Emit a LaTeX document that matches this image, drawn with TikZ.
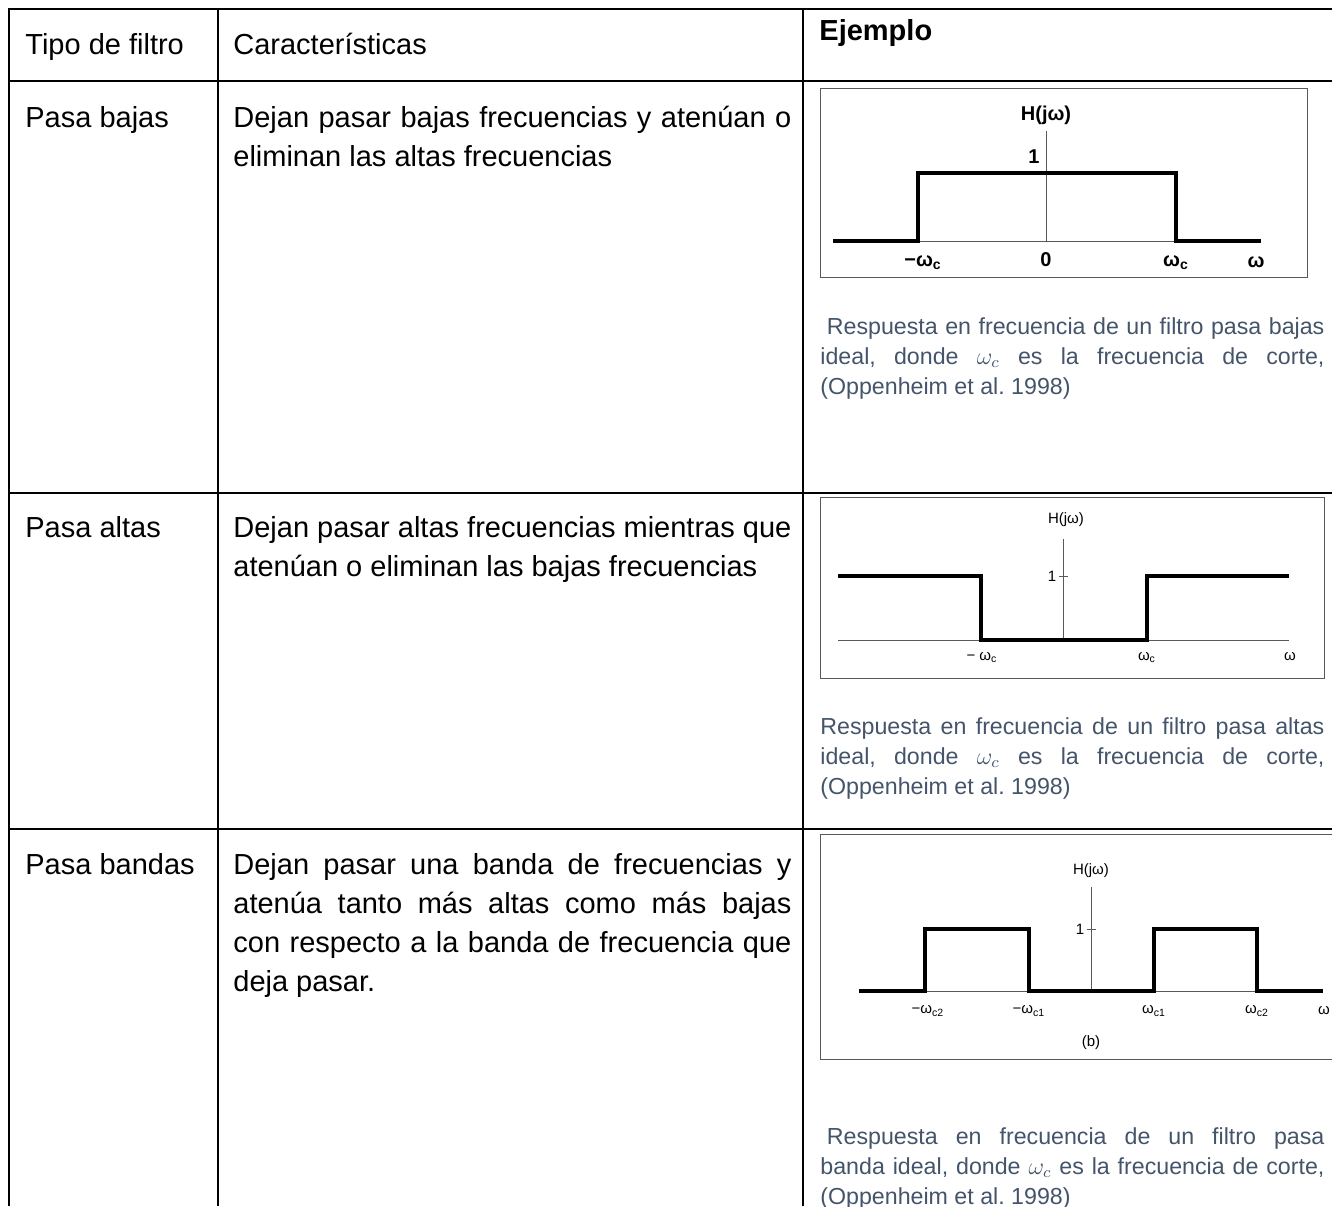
\documentclass[tikz,border=0pt]{standalone}
\usepackage{fontspec}
\setmainfont{Liberation Sans}
\usepackage{tikz}
\definecolor{capgray}{HTML}{44546A}
\hyphenpenalty=10000
\exhyphenpenalty=10000
\frenchspacing

\begin{document}
\begin{tikzpicture}[x=0.5pt, y=-0.5pt,
	body/.style={inner sep=0, anchor=base west, font=\fontsize{14.5}{19.5}\selectfont},
	celltext/.style={body, text width=279pt, align=justify},
	caption/.style={inner sep=0, anchor=base west, text width=252pt, align=justify, text=capgray, font=\fontsize{11.6}{15}\selectfont},
	grid/.style={line width=1pt},
	plotbox/.style={line width=0.5pt, draw=black!65},
	axis/.style={line width=0.45pt, color=black!65},
	resp/.style={line width=1.7pt, line join=miter},
	lblA/.style={inner sep=0, font=\fontsize{10}{12}\selectfont\bfseries},
	lblB/.style={inner sep=0, font=\fontsize{7.5}{9}\selectfont}]
	%%%%% START %%%%%
	\useasboundingbox (0, 0) rectangle (1332, 1206);
	\clip (0, 0) rectangle (1332, 1206);
	
	\draw[grid] (9, 1206) -- (9, 9) -- (1332, 9);
	\draw[grid] (218, 9) -- (218, 1206);
	\draw[grid] (803, 9) -- (803, 1206);
	\draw[grid] (9, 81) -- (1332, 81);
	\draw[grid] (9, 493) -- (1332, 493);
	\draw[grid] (9, 829) -- (1332, 829);
	
	% header
	\node[body] (tipo) at (25, 54) {Tipo de filtro};
	\node[body] (carac) at (233, 54) {Características};
	\node[body, font=\fontsize{14.5}{19.5}\selectfont\bfseries] (ejemplo) at (819, 40) {Ejemplo};
	
	% pasa bajas
	\node[body] (bajas) at (25, 127) {Pasa bajas};
	\node[celltext] (bajastxt) at (233, 127) {Dejan pasar bajas frecuencias y atenúan o\linebreak eliminan las altas frecuencias};
	\draw[plotbox] (820, 88) rectangle (1307, 277);
	\draw[axis] (833, 241) -- (1261, 241);
	\draw[axis] (1046, 131) -- (1046, 241);
	\draw[resp] (833, 241) -- (918, 241) -- (918, 173) -- (1176, 173) -- (1176, 241) -- (1261, 241);
	\node[lblA] (hA) at (1046, 115) {H(jω)};
	\node[lblA] (unoA) at (1034, 157) {1};
	\node[lblA] (wcnA) at (923, 263) {−ω\textsubscript{c}};
	\node[lblA] (ceroA) at (1046, 260) {0};
	\node[lblA] (wcpA) at (1176, 263) {ω\textsubscript{c}};
	\node[lblA] (wA) at (1256, 262) {ω};
	\node[caption] (capA) at (820, 334) {\hspace*{0.28em}Respuesta en frecuencia de un filtro pasa bajas\linebreak ideal, donde $\omega_c$ es la frecuencia de corte,\linebreak (Oppenheim et al. 1998)};
	
	% pasa altas
	\node[body] (altas) at (25, 537) {Pasa altas};
	\node[celltext] (altastxt) at (233, 537) {Dejan pasar altas frecuencias mientras que\linebreak atenúan o eliminan las bajas frecuencias};
	\draw[plotbox] (820, 497) rectangle (1324, 678);
	\draw[axis] (838, 640) -- (1289, 640);
	\draw[axis] (1063, 539) -- (1063, 640);
	\draw[axis] (1059, 576) -- (1068, 576);
	\draw[resp] (838, 576) -- (981, 576) -- (981, 640) -- (1147, 640) -- (1147, 576) -- (1289, 576);
	\node[lblB] (hB) at (1066, 520) {H(jω)};
	\node[lblB] (unoB) at (1052, 576) {1};
	\node[lblB] (wcnB) at (982, 657) {− ω\textsubscript{c}};
	\node[lblB] (wcpB) at (1147, 657) {ω\textsubscript{c}};
	\node[lblB] (wB) at (1290, 657) {ω};
	\node[caption] (capB) at (820, 734) {Respuesta en frecuencia de un filtro pasa altas\linebreak ideal, donde $\omega_c$ es la frecuencia de corte,\linebreak (Oppenheim et al. 1998)};
	
	% pasa bandas
	\node[body] (bandas) at (25, 874) {Pasa bandas};
	\node[celltext] (bandastxt) at (233, 874) {Dejan pasar una banda de frecuencias y\linebreak atenúa tanto más altas como más bajas\linebreak con respecto a la banda de frecuencia que\linebreak deja pasar.};
	\draw[plotbox] (820, 834) rectangle (1345, 1059);
	\draw[axis] (859, 991) -- (1323, 991);
	\draw[axis] (1091, 887) -- (1091, 991);
	\draw[axis] (1087, 929) -- (1096, 929);
	\draw[resp] (859, 991) -- (925, 991) -- (925, 929) -- (1029, 929) -- (1029, 991) -- (1154, 991) -- (1154, 929) -- (1257, 929) -- (1257, 991) -- (1323, 991);
	\node[lblB] (hC) at (1091, 871) {H(jω)};
	\node[lblB] (unoC) at (1080, 929) {1};
	\node[lblB] (wc2nC) at (928, 1011) {−ω\textsubscript{c2}};
	\node[lblB] (wc1nC) at (1029, 1011) {−ω\textsubscript{c1}};
	\node[lblB] (wc1pC) at (1154, 1011) {ω\textsubscript{c1}};
	\node[lblB] (wc2pC) at (1257, 1011) {ω\textsubscript{c2}};
	\node[lblB] (wC) at (1324, 1011) {ω};
	\node[lblB] (bC) at (1091, 1043) {(b)};
	\node[caption] (capC) at (820, 1144) {\hspace*{0.28em}Respuesta en frecuencia de un filtro pasa\linebreak banda ideal, donde $\omega_c$ es la frecuencia de corte,\linebreak (Oppenheim et al. 1998)};
	
	%%%%% END %%%%%
\end{tikzpicture}
\end{document}
